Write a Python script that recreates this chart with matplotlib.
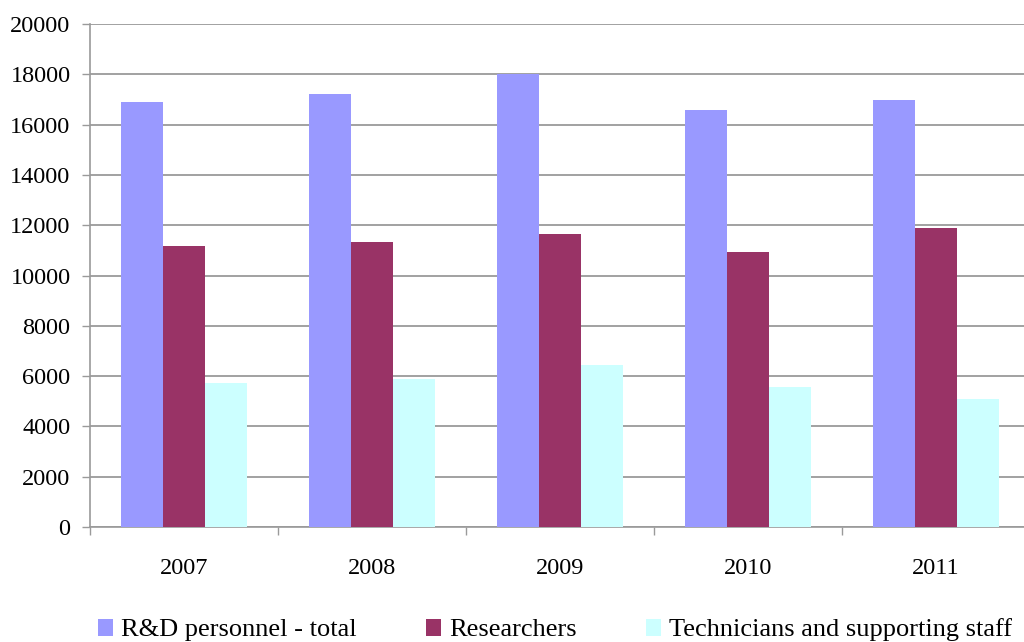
import numpy as np
import matplotlib
matplotlib.use("Agg")
import matplotlib.pyplot as plt
from matplotlib.ticker import FixedLocator

years = ["2007", "2008", "2009", "2010", "2011"]
rd_total = [16900, 17230, 18000, 16590, 16980]
researchers = [11170, 11330, 11650, 10940, 11890]
technicians = [5730, 5900, 6440, 5570, 5090]

series_names = ["R&D personnel - total", "Researchers", "Technicians and supporting staff"]
colors = ["#9999FF", "#993366", "#CCFFFF"]

plt.rcParams["font.family"] = ["Liberation Serif", "DejaVu Serif"]

fig = plt.figure(figsize=(10.24, 6.42), dpi=100)
W, H = 1024, 642
left, right, top, bottom = 90, 1030, 24, 527
ax = fig.add_axes([left / W, 1 - bottom / H, (right - left) / W, (bottom - top) / H])

x = np.arange(len(years))
bw = 42 / 188
for i, (vals, c, name) in enumerate(zip([rd_total, researchers, technicians], colors, series_names)):
    ax.bar(x + (i - 1) * bw, vals, width=bw, color=c, label=name, zorder=3, linewidth=0)

ax.set_xlim(-0.5, len(years) - 0.5)
ax.set_ylim(0, 20000)
ax.set_yticks(np.arange(0, 20001, 2000))
ax.yaxis.grid(True, color="#9a9a9a", linewidth=1.3, zorder=0)
ax.set_axisbelow(True)

ax.set_xticks(x)
ax.set_xticklabels(years)
ax.xaxis.set_minor_locator(FixedLocator(np.arange(-0.5, len(years), 1.0)))
ax.tick_params(axis="x", which="major", length=0, pad=22, labelsize=17.5)
ax.tick_params(axis="x", which="minor", length=6, color="#9a9a9a", width=1)
ax.tick_params(axis="y", length=6, color="#9a9a9a", width=1, pad=8, labelsize=17.5)

for s in ["top", "right"]:
    ax.spines[s].set_visible(False)
for s in ["left", "bottom"]:
    ax.spines[s].set_color("#9a9a9a")
    ax.spines[s].set_linewidth(1.2)

fig.legend(loc="center", bbox_to_anchor=(555 / W, 1 - 630 / H), ncol=3, frameon=False,
           fontsize=19, handlelength=0.6, handleheight=0.6, handletextpad=0.3,
           columnspacing=2.6, borderaxespad=0)

fig.savefig("out.png", dpi=100)
